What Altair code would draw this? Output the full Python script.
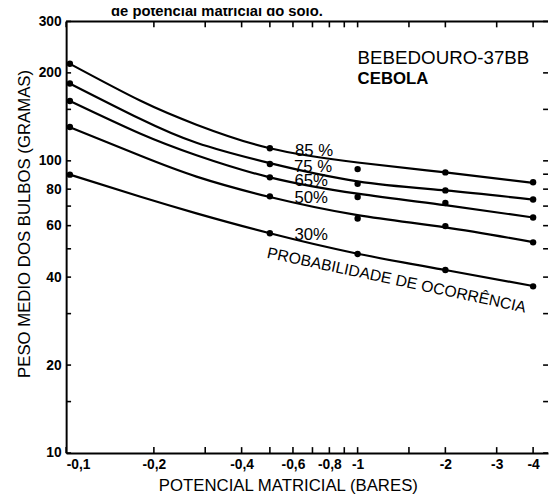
import altair as alt
import pandas as pd

FONT = "Liberation Sans"
W, H = 489, 438

# ---- data ----
series_names = ["85%", "75%", "65%", "50%", "30%"]

curve_x = [0.103, 0.18, 0.28, 0.5, 1.0, 2.0, 4.0]
curve_85 = [214.8, 160.5, 133.0, 110.4, 98.7, 91.3, 84.1]
curve_75 = [183.9, 139.0, 115.3, 98.2, 85.1, 79.2, 73.7]
curve_65 = [160.3, 123.8, 104.5, 87.8, 77.2, 70.5, 64.0]
curve_50 = [130.3, 104.0, 88.3, 75.2, 65.2, 59.2, 52.7]
curve_30 = [89.7, 75.3, 66.1, 56.5, 48.1, 42.3, 37.3]

dot_x = [0.103, 0.5, 1.0, 2.0, 4.0]
dot_85 = [214.8, 110.4, 93.7, 91.3, 84.5]
dot_75 = [183.9, 97.5, 83.4, 79.2, 73.7]
dot_65 = [160.3, 87.8, 75.2, 71.7, 64.0]
dot_50 = [130.6, 75.6, 63.5, 59.8, 52.6]
dot_30 = [89.7, 56.5, 48.0, 42.3, 37.2]

label_text = ["85 %", "75 %", "65%", "50%", "30%"]
label_x = [0.61, 0.605, 0.607, 0.607, 0.607]
label_y = [104.0, 91.8, 81.7, 71.6, 53.7]

x_tick_values = [0.1, 0.2, 0.3, 0.4, 0.5, 0.6, 0.7, 0.8, 0.9, 1, 1.5, 2, 3, 4]
x_label_values = [0.1, 0.2, 0.4, 0.6, 0.8, 1, 2, 3, 4]
x_label_text = ["-0,1", "-0,2", "-0,4", "-0,6", "-0,8", "-1", "-2", "-3", "-4"]
y_tick_values = [10, 15, 20, 30, 40, 50, 60, 70, 80, 90, 100, 150, 200, 300]
y_label_values = [10, 20, 40, 60, 80, 100, 200, 300]

site_text = ["BEBEDOURO-37BB"]
crop_text = ["CEBOLA"]
prob_text = ["PROBABILIDADE DE OCORRÊNCIA"]
page_title = "de potencial matricial do solo."

# ---- tables ----
curve_lists = [curve_85, curve_75, curve_65, curve_50, curve_30]
dot_lists = [dot_85, dot_75, dot_65, dot_50, dot_30]
curves = pd.DataFrame([{"s": s, "x": x, "y": y}
                       for s, ys in zip(series_names, curve_lists)
                       for x, y in zip(curve_x, ys)])
dots = pd.DataFrame([{"s": s, "x": x, "y": y}
                     for s, ys in zip(series_names, dot_lists)
                     for x, y in zip(dot_x, ys)])
labels = pd.DataFrame({"t": label_text, "x": label_x, "y": label_y})

xs = alt.Scale(type="log", domain=[0.1, 4.5], nice=False)
ys_ = alt.Scale(type="log", domain=[10, 300], nice=False)

label_expr = "[" + ",".join("'%s'" % t for t in x_label_text) + "][indexof([" + \
    ",".join(repr(v) for v in x_label_values) + "], datum.value)]"

x_axis = alt.Axis(values=x_label_values, labelExpr=label_expr,
                  title="POTENCIAL MATRICIAL (BARES)", ticks=False, tickSize=0,
                  grid=False, domainWidth=2, domainColor="black",
                  labelFont=FONT, labelFontSize=14, labelFontWeight="bold",
                  labelColor="black", labelPadding=5,
                  titleFont=FONT, titleFontSize=17, titleFontWeight="normal",
                  titleColor="black", titleX=225, titleY=33,
                  titleAlign="center", titleBaseline="middle")
y_axis = alt.Axis(values=y_label_values, format="d",
                  title="PESO MEDIO DOS BULBOS (GRAMAS)", ticks=False, tickSize=0,
                  grid=False, domainWidth=2, domainColor="black",
                  labelFont=FONT, labelFontSize=14, labelFontWeight="bold",
                  labelColor="black", labelPadding=5,
                  titleFont=FONT, titleFontSize=17, titleFontWeight="normal",
                  titleColor="black", titleX=-42, titleY=205, titleAngle=270,
                  titleAlign="center", titleBaseline="middle")

X = lambda f: alt.X(f, scale=xs, axis=x_axis)
Y = lambda f: alt.Y(f, scale=ys_, axis=y_axis)

lines = alt.Chart(curves).mark_line(color="black", strokeWidth=2.2,
                                    interpolate="natural").encode(
    x=X("x:Q"), y=Y("y:Q"), detail="s:N")
points = alt.Chart(dots).mark_circle(color="black", opacity=1, size=42).encode(
    x=X("x:Q"), y=Y("y:Q"))
curve_labels = alt.Chart(labels).mark_text(
    align="left", baseline="alphabetic", font=FONT, fontSize=17, color="black"
).encode(x=X("x:Q"), y=Y("y:Q"), text="t:N")

site = alt.Chart(pd.DataFrame({"t": site_text, "x": [1.0], "y": [214.0]})).mark_text(
    align="left", baseline="alphabetic", font=FONT, fontSize=19, color="black"
).encode(x=X("x:Q"), y=Y("y:Q"), text="t:N")
crop = alt.Chart(pd.DataFrame({"t": crop_text, "x": [1.0], "y": [183.4]})).mark_text(
    align="left", baseline="alphabetic", font=FONT, fontSize=17, fontWeight="bold",
    color="black"
).encode(x=X("x:Q"), y=Y("y:Q"), text="t:N")
prob = alt.Chart(pd.DataFrame({"t": prob_text, "x": [1.36], "y": [39.0]})).mark_text(
    align="center", baseline="middle", font=FONT, fontSize=16, angle=12,
    color="black"
).encode(x=X("x:Q"), y=Y("y:Q"), text="t:N")

xt = pd.DataFrame({"t": x_tick_values})
yt = pd.DataFrame({"t": y_tick_values})
bottom_ticks = alt.Chart(xt).mark_rule(color="black", strokeWidth=1.6).encode(
    x=X("t:Q"), y=alt.value(H), y2=alt.value(H - 6))
top_ticks = alt.Chart(xt).mark_rule(color="black", strokeWidth=1.6).encode(
    x=X("t:Q"), y=alt.value(0), y2=alt.value(6))
left_ticks = alt.Chart(yt).mark_rule(color="black", strokeWidth=1.6).encode(
    y=Y("t:Q"), x=alt.value(0), x2=alt.value(5))
right_ticks = alt.Chart(yt).mark_rule(color="black", strokeWidth=1.6).encode(
    y=Y("t:Q"), x=alt.value(W - 5), x2=alt.value(W))
top_line = alt.Chart(pd.DataFrame({"a": [0]})).mark_rule(
    color="black", strokeWidth=2).encode(
    x=alt.value(0), x2=alt.value(W), y=alt.value(0))
title_text = alt.Chart(pd.DataFrame({"t": [page_title]})).mark_text(
    align="center", baseline="alphabetic", font=FONT, fontSize=15,
    fontWeight="bold", color="black"
).encode(x=alt.value(153), y=alt.value(-6), text="t:N")

chart = alt.layer(
    lines, points, curve_labels, site, crop, prob,
    bottom_ticks, top_ticks, left_ticks, right_ticks, top_line, title_text
).properties(
    width=W, height=H,
    autosize=alt.AutoSizeParams(type="none"),
    padding={"left": 59, "top": 10, "right": 1, "bottom": 41},
    background="white",
).configure_view(stroke=None)

chart.save("out.html", embed_options={"renderer": "svg", "actions": False})
